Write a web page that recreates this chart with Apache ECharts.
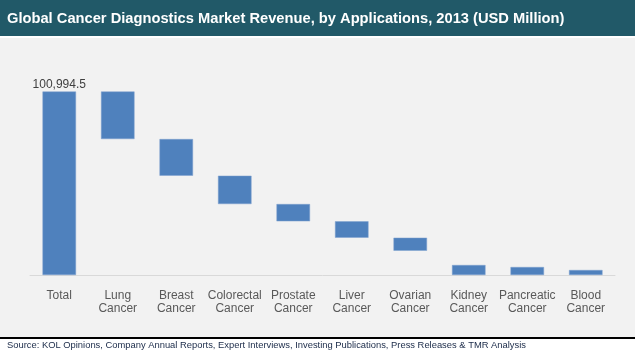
<!DOCTYPE html>
<html>
<head>
<meta charset="utf-8">
<script src="https://cdn.jsdelivr.net/npm/echarts@6/dist/echarts.min.js"></script>
<style>
html,body{margin:0;padding:0;background:#fff;}
#c{width:635px;height:356px;}
</style>
</head>
<body>
<div id="c"></div>
<script>
var categories = ['Total', 'Lung\nCancer', 'Breast\nCancer', 'Colorectal\nCancer', 'Prostate\nCancer', 'Liver\nCancer', 'Ovarian\nCancer', 'Kidney\nCancer', 'Pancreatic\nCancer', 'Blood\nCancer'];
var totalValue = 100994.5;
var segmentValues = [26150, 20200, 15580, 9520, 9030, 7160, 5500, 4400, 2750];
// segments drawn from the baseline instead of floating
var fromBaseline = [false, false, false, false, false, false, true, true, true];
var titleText = 'Global Cancer Diagnostics Market Revenue, by Applications, 2013 (USD Million)';
var sourceText = 'Source: KOL Opinions, Company Annual Reports, Expert Interviews, Investing Publications, Press Releases & TMR Analysis';

var baseData = [0];
var barData = [totalValue];
var running = totalValue;
for (var i = 0; i < segmentValues.length; i++) {
  running -= segmentValues[i];
  baseData.push(fromBaseline[i] ? 0 : running);
  barData.push(segmentValues[i]);
}

var chart = echarts.init(document.getElementById('c'), null, {renderer: 'canvas'});
chart.setOption({
  backgroundColor: '#ffffff',
  animation: false,
  graphic: [
    {type: 'rect', shape: {x: 0, y: 0, width: 635, height: 36}, style: {fill: '#215968'}, z: -10},
    {type: 'rect', shape: {x: 0, y: 38, width: 635, height: 299}, style: {fill: '#f2f2f2'}, z: -10},
    {type: 'rect', shape: {x: 0, y: 337, width: 635, height: 2}, style: {fill: '#000000'}, z: -10},
    {type: 'text', left: 7, top: 11, style: {text: titleText, fill: '#ffffff', font: 'bold 14.7px "Liberation Sans", Arial, sans-serif'}},
    {type: 'text', left: 7, top: 341, style: {text: sourceText, fill: '#1a2a48', font: '9.4px "Liberation Sans", Arial, sans-serif'}}
  ],
  grid: {left: 30, right: 20, top: 57, bottom: 81, containLabel: false},
  xAxis: {
    type: 'category',
    data: categories,
    axisLine: {lineStyle: {color: '#d9d9d9', width: 1}},
    axisTick: {show: false},
    axisLabel: {
      interval: 0,
      margin: 14,
      fontSize: 12,
      lineHeight: 13,
      color: '#595959',
      fontFamily: '"Liberation Sans", Arial, sans-serif'
    }
  },
  yAxis: {
    type: 'value',
    min: 0,
    max: 120000,
    show: false,
    splitLine: {show: false}
  },
  series: [
    {
      type: 'bar',
      stack: 'w',
      data: baseData,
      barWidth: 33.5,
      itemStyle: {color: 'transparent'},
      silent: true
    },
    {
      type: 'bar',
      stack: 'w',
      data: barData.map(function (v, i) {
        return i === 0 ? {
          value: v,
          label: {
            show: true,
            position: 'top',
            distance: 1,
            formatter: function (p) { return p.value.toLocaleString('en-US', {minimumFractionDigits: 1}); },
            fontSize: 12,
            color: '#404040',
            fontFamily: '"Liberation Sans", Arial, sans-serif'
          }
        } : v;
      }),
      barWidth: 33.5,
      itemStyle: {color: '#4f81bd', borderColor: '#7ea1cf', borderWidth: 0.5}
    }
  ]
});
</script>
</body>
</html>
